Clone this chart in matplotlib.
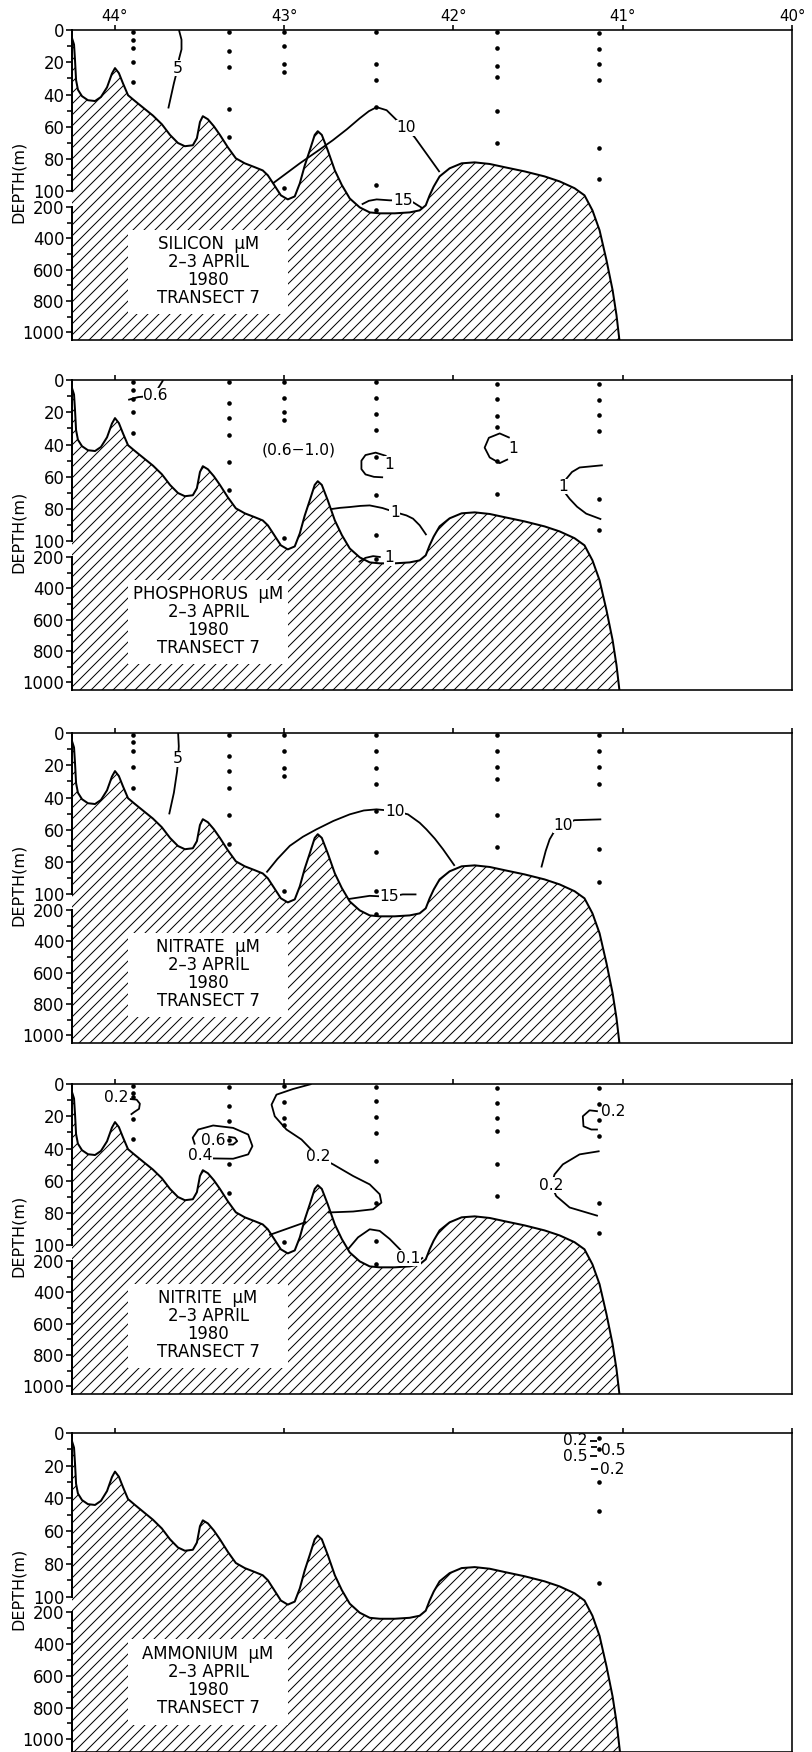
import numpy as np
import matplotlib
matplotlib.use("Agg")
import matplotlib.pyplot as plt
from matplotlib.patches import Rectangle
from matplotlib.ticker import NullFormatter, NullLocator

DPI = 66


def pt(px):
    # sizes below in pixels
    return px * 72.0 / DPI


# ---- bottom profile, shared by all five sections (lon in deg W, depth in m) ----
bottom_lon = [44.254, 44.242, 44.236, 44.230, 44.219, 44.195, 44.160, 44.118, 44.083, 44.047,
              44.018, 44.000, 43.977, 43.953, 43.923, 43.882, 43.835, 43.776, 43.723, 43.675,
              43.628, 43.587, 43.540, 43.516, 43.498, 43.481, 43.451, 43.416, 43.380, 43.333,
              43.286, 43.233, 43.174, 43.127, 43.097, 43.062, 43.020, 42.979, 42.938, 42.908,
              42.879, 42.849, 42.820, 42.802, 42.778, 42.743, 42.701, 42.660, 42.613, 42.554,
              42.495, 42.436, 42.347, 42.259, 42.200, 42.164, 42.141, 42.117, 42.082, 42.023,
              41.952, 41.875, 41.786, 41.698, 41.580, 41.462, 41.373, 41.285, 41.226, 41.179,
              41.137, 41.096, 41.060, 41.037, 41.012]
bottom_depth = [5, 9, 19, 31, 37, 41, 43.5, 44, 41.5, 35.5,
                27, 23.6, 26.7, 33, 40.4, 44, 48, 53, 58.4, 65,
                70, 72, 71.4, 67, 57, 53.4, 55.3, 59.6, 65, 72.7,
                79.5, 82.6, 85, 87, 90, 95.6, 125, 151, 132, 95,
                84, 74.5, 65, 62.7, 65, 74.5, 87, 96, 145, 202,
                234, 240, 240, 234, 221, 189, 125, 97, 90.7, 85.7,
                82.6, 82, 83, 85, 87.6, 90.7, 93.8, 98, 125, 221,
                348, 540, 730, 890, 1120]

station_lon = [43.894, 43.324, 43.003, 42.459, 41.742, 41.140]
lon_ticks = [44, 43, 42, 41, 40]
depth_major = [0, 20, 40, 60, 80, 100, 200, 400, 600, 800, 1000]
depth_minor = [10, 30, 50, 70, 90, 300, 500, 700, 900]

# ---- sample depths at each station ----
si_samples = [[1, 6, 11, 20, 32], [1, 13, 23, 49, 66], [1, 10, 21, 26, 98],
              [1, 21, 31, 48, 96, 217], [1, 11, 22, 29, 50, 70], [2, 12, 21, 31, 73, 92]]
p_samples = [[1, 6, 12, 20, 33], [1, 14, 23.5, 34, 51, 68], [1, 11, 20, 25, 98],
             [1, 11, 21, 31, 48, 71, 96, 215], [2.5, 12, 22, 29, 50, 70.5],
             [2.5, 12.4, 21.5, 31.6, 74, 93]]
n_samples = [[1, 5.8, 10.9, 21.2, 34], [1, 14, 23.5, 34, 50.5, 68.5], [1, 11.3, 21.6, 26.4, 98],
             [1, 11.3, 21.6, 31.3, 48.4, 73.5, 97.8, 225], [1, 11.3, 21.2, 28.8, 50.9, 70.4],
             [1, 11.3, 21.2, 31.3, 72, 92]]
nt_samples = [[1.5, 5.6, 8, 21.6, 33.8], [2, 13.8, 23, 34.4, 49.8, 67.3], [1.5, 11.4, 21, 25.5, 98],
              [2, 10.7, 20.6, 30.2, 47.8, 73.5, 97.2, 219], [2.5, 11.7, 21, 29.3, 49.8, 69.4],
              [2.5, 12.2, 22, 32.3, 73.9, 92]]
nh_samples = [[], [], [], [], [], [3, 10, 30, 48, 92]]

# ---- isolines: (lon list, depth list) ----
si_5 = ([43.622, 43.607, 43.607, 43.621, 43.630, 43.652, 43.685], [0, 6, 12, 17.6, 23.8, 33, 48.6])
si_10 = ([43.067, 42.990, 42.908, 42.810, 42.713, 42.630, 42.554, 42.500, 42.454, 42.395, 42.335,
          42.278, 42.229, 42.153, 42.082],
         [95, 89, 82.6, 75.5, 68.3, 61.5, 54.7, 50.3, 47.8, 49.7, 55.9, 60.7, 66.5, 77.6, 88])
si_15 = ([42.542, 42.500, 42.454, 42.377, 42.300, 42.247, 42.182], [183, 160, 151, 157, 157, 164, 208])
si_labels = [("5", 43.630, 23.8), ("10", 42.278, 60.7), ("15", 42.300, 157)]

p_06 = ([43.715, 43.745, 43.760, 43.863, 43.922], [0, 5.1, 9.6, 10.6, 12.3])
p_1a = ([42.396, 42.460, 42.520, 42.544, 42.544, 42.520, 42.470, 42.416],
        [47.1, 45, 46.5, 50, 55.2, 58.5, 60, 60.3])
p_1b = ([41.668, 41.727, 41.791, 41.816, 41.786, 41.727, 41.678], [35.8, 33.1, 35.8, 41.9, 48, 51.5, 49.1])
p_1c = ([42.725, 42.670, 42.613, 42.550, 42.495, 42.420, 42.347, 42.278, 42.239, 42.200, 42.160],
        [80, 79.2, 78.7, 78, 77.7, 79.3, 81.8, 83.9, 85.9, 90, 96.1])
p_1d = ([42.56, 42.52, 42.475, 42.43], [232, 205, 194, 200])
p_1e = ([41.118, 41.255, 41.300, 41.334, 41.350, 41.340, 41.314, 41.270, 41.216, 41.127],
        [52.8, 54.2, 57, 61.3, 66, 70, 73.6, 78.5, 82.8, 86.3])
p_labels = [("0.6", 43.760, 9.6), ("1", 42.377, 52.1), ("1", 41.645, 42.5), ("1", 42.347, 81.8),
            ("1", 42.377, 204), ("1", 41.350, 66), ("(0.6\u22121.0)", 42.914, 43.4)]

n_5 = ([43.627, 43.623, 43.627, 43.633, 43.652, 43.680], [0, 8.2, 16, 23.7, 37, 50.4])
n_10a = ([43.105, 43.040, 42.967, 42.890, 42.810, 42.710, 42.613, 42.530, 42.455, 42.348, 42.269,
          42.200, 42.160, 42.110, 42.062, 41.993],
         [86.4, 78, 69.9, 64.3, 59.7, 54.5, 50.4, 48, 47.3, 48.4, 50.4, 55.6, 59.7, 65.5, 72, 82.3])
n_10b = ([41.481, 41.455, 41.432, 41.403, 41.354, 41.285, 41.127], [83.3, 73, 65.9, 60.7, 57, 54, 53.5])
n_15 = ([42.623, 42.495, 42.377, 42.300, 42.219], [130, 109, 115, 100, 100])
n_labels = [("5", 43.627, 16), ("10", 42.348, 48.4), ("10", 41.354, 57), ("15", 42.377, 115)]

nt_02a = ([43.912, 43.872, 43.853, 43.858, 43.888, 43.907], [9.3, 9.7, 12.2, 15.4, 17.5, 19])
nt_06 = ([43.331, 43.292, 43.278, 43.302, 43.331], [32.7, 33.3, 35.4, 37.5, 37.5])
nt_04 = ([43.429, 43.302, 43.213, 43.188, 43.213, 43.302, 43.420, 43.508, 43.541, 43.528],
         [46.1, 46.3, 43.6, 38.5, 31.3, 27.2, 25.7, 28.2, 33.3, 37.5])
nt_02b = ([42.839, 42.948, 43.046, 43.075, 43.056, 42.987, 42.898, 42.800, 42.711, 42.593,
           42.495, 42.436, 42.426, 42.475, 42.593, 42.741],
          [0, 3.1, 6.6, 12.8, 20, 28.2, 34.4, 45, 49.8, 57, 62.2, 68.3, 73.5, 77.6, 79, 79.6])
nt_02c = ([42.869, 43.089], [85.4, 93.6])
nt_01 = ([42.623, 42.564, 42.495, 42.436, 42.377, 42.318, 42.269, 42.220, 42.180],
         [123.6, 95, 90, 91, 96, 123.6, 183, 209, 177])
nt_02d = ([41.147, 41.196, 41.236, 41.232, 41.186, 41.147], [16.9, 16.3, 20, 26.2, 28.2, 28.2])
nt_02e = ([41.137, 41.255, 41.354, 41.403, 41.422, 41.393, 41.314, 41.147],
          [41.6, 43.6, 49.8, 56, 62.8, 69.4, 76.5, 81.7])
nt_labels = [("0.2", 43.990, 8.6), ("0.6", 43.420, 34.8), ("0.4", 43.498, 44), ("0.2", 42.800, 45),
             ("0.1", 42.269, 183), ("0.2", 41.058, 17.3), ("0.2", 41.422, 62.8)]

nh_a = ([41.192, 41.152], [5, 5])
nh_b = ([41.190, 41.150], [8.8, 8.8])
nh_c = ([41.192, 41.152], [14, 14])
nh_d = ([41.190, 41.148], [22, 22])
nh_labels = [("0.2", 41.280, 4.6), ("0.5", 41.055, 10.4), ("0.5", 41.280, 14.3), ("0.2", 41.062, 22.5)]

titles = ["SILICON  \u00b5M", "PHOSPHORUS  \u00b5M", "NITRATE  \u00b5M", "NITRITE  \u00b5M", "AMMONIUM  \u00b5M"]

K = 0.097  # depth below 100 m is squeezed


def fwd(d):
    d = np.asarray(d, dtype=float)
    return np.where(d <= 100, d, 100 + (d - 100) * K)


def inv(u):
    u = np.asarray(u, dtype=float)
    return np.where(u <= 100, u, 100 + (u - 100) / K)


plt.rcParams['font.family'] = ['DejaVu Sans']
plt.rcParams['hatch.linewidth'] = pt(1.0)
plt.rcParams['hatch.color'] = 'black'

W, H = 812, 1752
fig = plt.figure(figsize=(W / DPI, H / DPI), dpi=DPI)

panels = [
    (30, 310, 1049, si_samples, [si_5, si_10, si_15], si_labels, True),
    (380, 310, 1049, p_samples, [p_06, p_1a, p_1b, p_1c, p_1d, p_1e], p_labels, True),
    (733, 310, 1049, n_samples, [n_5, n_10a, n_10b, n_15], n_labels, True),
    (1084, 310, 1049, nt_samples, [nt_02a, nt_06, nt_04, nt_02b, nt_02c, nt_01, nt_02d, nt_02e], nt_labels, True),
    (1433, 319, 1080, nh_samples, [nh_a, nh_b, nh_c, nh_d], nh_labels, False),
]

for i, (top, h, ybot, samples, lines, labels, boxed) in enumerate(panels):
    ax = fig.add_axes([72 / W, 1 - (top + h) / H, 720 / W, h / H])
    ax.set_yscale('function', functions=(fwd, inv))
    ax.set_xlim(44.254, 40.0)
    ax.set_ylim(ybot, 0)

    # sea floor
    ax.fill_between(bottom_lon, bottom_depth, ybot + 100, facecolor='white',
                    edgecolor='black', hatch='//', linewidth=0, zorder=1)
    ax.plot(bottom_lon, bottom_depth, color='black', lw=pt(2.0), zorder=2)

    # white panel for the caption
    ax.add_patch(Rectangle((0.078, 0.085), 0.222, 0.27, transform=ax.transAxes,
                           facecolor='white', edgecolor='none', zorder=2))
    ax.text(0.189, 0.222, titles[i] + "\n2\u20133 APRIL\n1980\nTRANSECT 7",
            transform=ax.transAxes, ha='center', va='center', multialignment='center',
            fontsize=pt(16.5), linespacing=1.0, zorder=3)

    for lons, deps in lines:
        ax.plot(lons, deps, color='black', lw=pt(1.8), zorder=3,
                solid_capstyle='butt', solid_joinstyle='round')
    for txt, x, y in labels:
        kw = dict(bbox=dict(facecolor='white', edgecolor='none', pad=pt(0.5))) if boxed else {}
        ax.text(x, y, txt, ha='center', va='center', fontsize=pt(15.5), zorder=4, **kw)

    for lon, deps in zip(station_lon, samples):
        if deps:
            ax.plot([lon] * len(deps), deps, 'o', ms=pt(4.6), color='black',
                    mec='none', zorder=5, clip_on=False)

    # axes furniture
    ax.set_yticks(depth_major)
    ax.set_yticks(depth_minor, minor=True)
    ax.set_yticklabels([str(v) for v in depth_major])
    ax.yaxis.set_minor_formatter(NullFormatter())
    ax.tick_params(axis='y', which='both', direction='out', width=pt(1.6),
                   labelsize=pt(16.5), pad=pt(1.5))
    ax.tick_params(axis='y', which='major', length=pt(6))
    ax.tick_params(axis='y', which='minor', length=pt(5))

    ax.xaxis.set_ticks_position('top')
    ax.set_xticks(lon_ticks)
    if i == 0:
        ax.set_xticklabels([f"{v}\u00b0" for v in lon_ticks])
    else:
        ax.set_xticklabels([])
    ax.tick_params(axis='x', which='both', direction='out', length=pt(5), width=pt(1.6),
                   labelsize=pt(15), pad=pt(1))
    ax.xaxis.set_minor_locator(NullLocator())

    ax.spines['left'].set_visible(False)
    for s in ['top', 'right', 'bottom']:
        ax.spines[s].set_linewidth(pt(1.6))
    # broken depth axis: 0-100 and 200-bottom
    ax.plot([0, 0], [0, 100], transform=ax.get_yaxis_transform(), color='black',
            lw=pt(2.0), clip_on=False, zorder=6)
    ax.plot([0, 0], [200, ybot], transform=ax.get_yaxis_transform(), color='black',
            lw=pt(2.0), clip_on=False, zorder=6)

    ax.text(-0.075, 0.51, "DEPTH(m)", transform=ax.transAxes, rotation=90,
            ha='center', va='center', fontsize=pt(16))

fig.savefig("out.png", dpi=DPI)
